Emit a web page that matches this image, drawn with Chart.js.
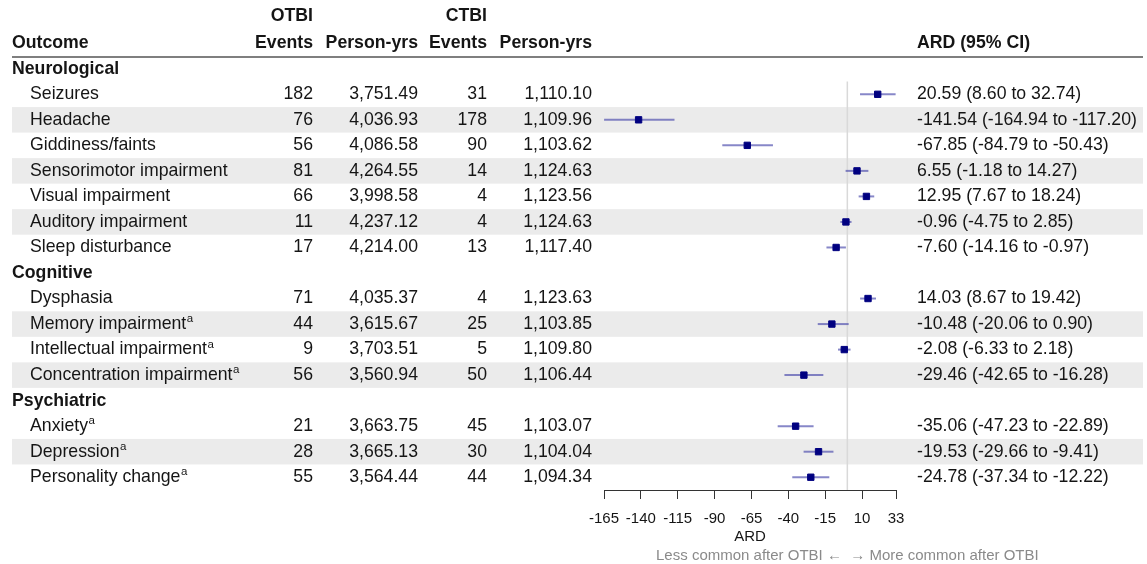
<!DOCTYPE html>
<html>
<head>
<meta charset="utf-8">
<script src="https://cdn.jsdelivr.net/npm/chart.js@4"></script>
<style>
  html, body { margin: 0; padding: 0; background: #fff; }
  canvas { display: block; }
</style>
</head>
<body>
<canvas id="forestChart" width="1147" height="564"></canvas>
<script>
// Outcome groups and table data
const groups = ['Neurological', 'Cognitive', 'Psychiatric'];
const outcomes = [
    'Seizures', 'Headache', 'Giddiness/faints', 'Sensorimotor impairment',
    'Visual impairment', 'Auditory impairment', 'Sleep disturbance',
    'Dysphasia', 'Memory impairment', 'Intellectual impairment', 'Concentration impairment',
    'Anxiety', 'Depression', 'Personality change'
];
const outcomeGroup = [0, 0, 0, 0, 0, 0, 0, 1, 1, 1, 1, 2, 2, 2];
const footnoteA = [false, false, false, false, false, false, false, false, true, true, true, true, true, true];
const otbiEvents = [182, 76, 56, 81, 66, 11, 17, 71, 44, 9, 56, 21, 28, 55];
const otbiPersonYrs = [3751.49, 4036.93, 4086.58, 4264.55, 3998.58, 4237.12, 4214.00, 4035.37, 3615.67, 3703.51, 3560.94, 3663.75, 3665.13, 3564.44];
const ctbiEvents = [31, 178, 90, 14, 4, 4, 13, 4, 25, 5, 50, 45, 30, 44];
const ctbiPersonYrs = [1110.10, 1109.96, 1103.62, 1124.63, 1123.56, 1124.63, 1117.40, 1123.63, 1103.85, 1109.80, 1106.44, 1103.07, 1104.04, 1094.34];

// ARD and 95% CI
const ard = [20.59, -141.54, -67.85, 6.55, 12.95, -0.96, -7.60, 14.03, -10.48, -2.08, -29.46, -35.06, -19.53, -24.78];
const ardLow = [8.60, -164.94, -84.79, -1.18, 7.67, -4.75, -14.16, 8.67, -20.06, -6.33, -42.65, -47.23, -29.66, -37.34];
const ardHigh = [32.74, -117.20, -50.43, 14.27, 18.24, 2.85, -0.97, 19.42, 0.90, 2.18, -16.28, -22.89, -9.41, -12.22];

// x axis ticks
const xTicks = [-165, -140, -115, -90, -65, -40, -15, 10, 33];

// build the row list: group header then its outcomes, shading every 2nd outcome in a group
const rows = [];
const itemRow = [];
let rowNo = 0;
groups.forEach((g, gi) => {
    rows.push({ kind: 'group', label: g, y: rowNo++ });
    let k = 0;
    outcomes.forEach((o, i) => {
        if (outcomeGroup[i] !== gi) return;
        itemRow[i] = rowNo;
        rows.push({ kind: 'item', idx: i, y: rowNo++, shaded: k % 2 === 1 });
        k++;
    });
});

const FONT = '"Liberation Sans", Arial, Helvetica, sans-serif';
const TEXT = '#151515';
const SIZE = 17.7;
Chart.defaults.font.family = FONT;
Chart.defaults.color = TEXT;

const fmt2 = v => v.toLocaleString('en-US', { minimumFractionDigits: 2, maximumFractionDigits: 2 });
const ardText = i => `${ard[i].toFixed(2)} (${ardLow[i].toFixed(2)} to ${ardHigh[i].toFixed(2)})`;

// column positions of the table
const colOutcome = 12, colIndent = 30;
const colOtbiEv = 313, colOtbiPy = 418, colCtbiEv = 487, colCtbiPy = 592;
const colArd = 917;
const rowLeft = 12, rowRight = 1143;

const forestPlugin = {
    id: 'forest',
    beforeDatasetsDraw(chart) {
        const { ctx, scales: { x, y } } = chart;
        const half = Math.abs(y.getPixelForValue(0.5) - y.getPixelForValue(0));
        ctx.save();
        // zebra bands
        ctx.fillStyle = '#ebebeb';
        rows.forEach(r => {
            if (!r.shaded) return;
            const py = y.getPixelForValue(r.y);
            ctx.fillRect(rowLeft, py - half, rowRight - rowLeft, half * 2);
        });
        // no-difference line
        const x0 = x.getPixelForValue(0);
        ctx.strokeStyle = '#d9d9d9';
        ctx.lineWidth = 1.5;
        ctx.beginPath();
        ctx.moveTo(x0, y.getPixelForValue(0.5));
        ctx.lineTo(x0, y.getPixelForValue(y.max));
        ctx.stroke();
        // confidence intervals
        ctx.strokeStyle = 'rgba(70,70,170,0.65)';
        ctx.lineWidth = 2;
        outcomes.forEach((o, i) => {
            const py = y.getPixelForValue(itemRow[i]);
            ctx.beginPath();
            ctx.moveTo(x.getPixelForValue(ardLow[i]), py);
            ctx.lineTo(x.getPixelForValue(ardHigh[i]), py);
            ctx.stroke();
        });
        ctx.restore();
    },
    afterDraw(chart) {
        const { ctx, scales: { x, y } } = chart;
        ctx.save();
        ctx.fillStyle = TEXT;
        ctx.textBaseline = 'middle';

        // header
        ctx.font = `bold ${SIZE}px ${FONT}`;
        ctx.textAlign = 'right';
        ctx.fillText('OTBI', colOtbiEv, 16);
        ctx.fillText('CTBI', colCtbiEv, 16);
        ctx.fillText('Events', colOtbiEv, 43);
        ctx.fillText('Person-yrs', colOtbiPy, 43);
        ctx.fillText('Events', colCtbiEv, 43);
        ctx.fillText('Person-yrs', colCtbiPy, 43);
        ctx.textAlign = 'left';
        ctx.fillText('Outcome', colOutcome, 43);
        ctx.fillText('ARD (95% CI)', colArd, 43);

        ctx.strokeStyle = '#555';
        ctx.lineWidth = 1.5;
        ctx.beginPath();
        ctx.moveTo(rowLeft, 57);
        ctx.lineTo(rowRight, 57);
        ctx.stroke();

        // body rows
        rows.forEach(r => {
            const py = y.getPixelForValue(r.y);
            if (r.kind === 'group') {
                ctx.font = `bold ${SIZE}px ${FONT}`;
                ctx.textAlign = 'left';
                ctx.fillText(r.label, colOutcome, py);
                return;
            }
            const i = r.idx;
            ctx.font = `${SIZE}px ${FONT}`;
            ctx.textAlign = 'left';
            ctx.fillText(outcomes[i], colIndent, py);
            if (footnoteA[i]) {
                const w = ctx.measureText(outcomes[i]).width;
                ctx.font = `11.5px ${FONT}`;
                ctx.fillText('a', colIndent + w + 0.5, py - 5);
                ctx.font = `${SIZE}px ${FONT}`;
            }
            ctx.textAlign = 'right';
            ctx.fillText(String(otbiEvents[i]), colOtbiEv, py);
            ctx.fillText(fmt2(otbiPersonYrs[i]), colOtbiPy, py);
            ctx.fillText(String(ctbiEvents[i]), colCtbiEv, py);
            ctx.fillText(fmt2(ctbiPersonYrs[i]), colCtbiPy, py);
            ctx.textAlign = 'left';
            ctx.fillText(ardText(i), colArd, py);
        });

        // direction note under the axis
        ctx.font = `15px ${FONT}`;
        ctx.fillStyle = '#8a8a8a';
        ctx.textAlign = 'center';
        ctx.fillText('Less common after OTBI \u2190  \u2192 More common after OTBI', x.getPixelForValue(0), 556);
        ctx.restore();
    }
};

const ctx = document.getElementById('forestChart').getContext('2d');
const forestChart = new Chart(ctx, {
    type: 'scatter',
    data: {
        datasets: [{
            label: 'ARD',
            data: outcomes.map((o, i) => ({ x: ard[i], y: itemRow[i] })),
            pointStyle: 'rect',
            pointRadius: 4.5,
            backgroundColor: '#000080',
            borderColor: '#000080',
            borderWidth: 1
        }]
    },
    options: {
        responsive: false,
        animation: false,
        events: [],
        layout: { padding: { left: 604, right: 251, top: 56, bottom: 16 } },
        plugins: { legend: { display: false }, tooltip: { enabled: false } },
        scales: {
            x: {
                type: 'linear',
                position: 'bottom',
                min: -165,
                max: 33,
                afterBuildTicks: axis => { axis.ticks = xTicks.map(v => ({ value: v })); },
                afterFit: axis => { axis.height = 58; },
                ticks: { font: { size: 15 }, color: TEXT, padding: 11, maxRotation: 0, autoSkip: false },
                grid: { drawOnChartArea: false, drawTicks: true, tickLength: 9, color: '#333', lineWidth: 1 },
                border: { display: true, color: '#333', width: 1 },
                title: { display: true, text: 'ARD', font: { size: 15 }, color: TEXT, padding: { top: 2, bottom: 2 } }
            },
            y: {
                type: 'linear',
                display: false,
                reverse: true,
                min: -0.5,
                max: rows.length - 0.5
            }
        }
    },
    plugins: [forestPlugin]
});
</script>
</body>
</html>
